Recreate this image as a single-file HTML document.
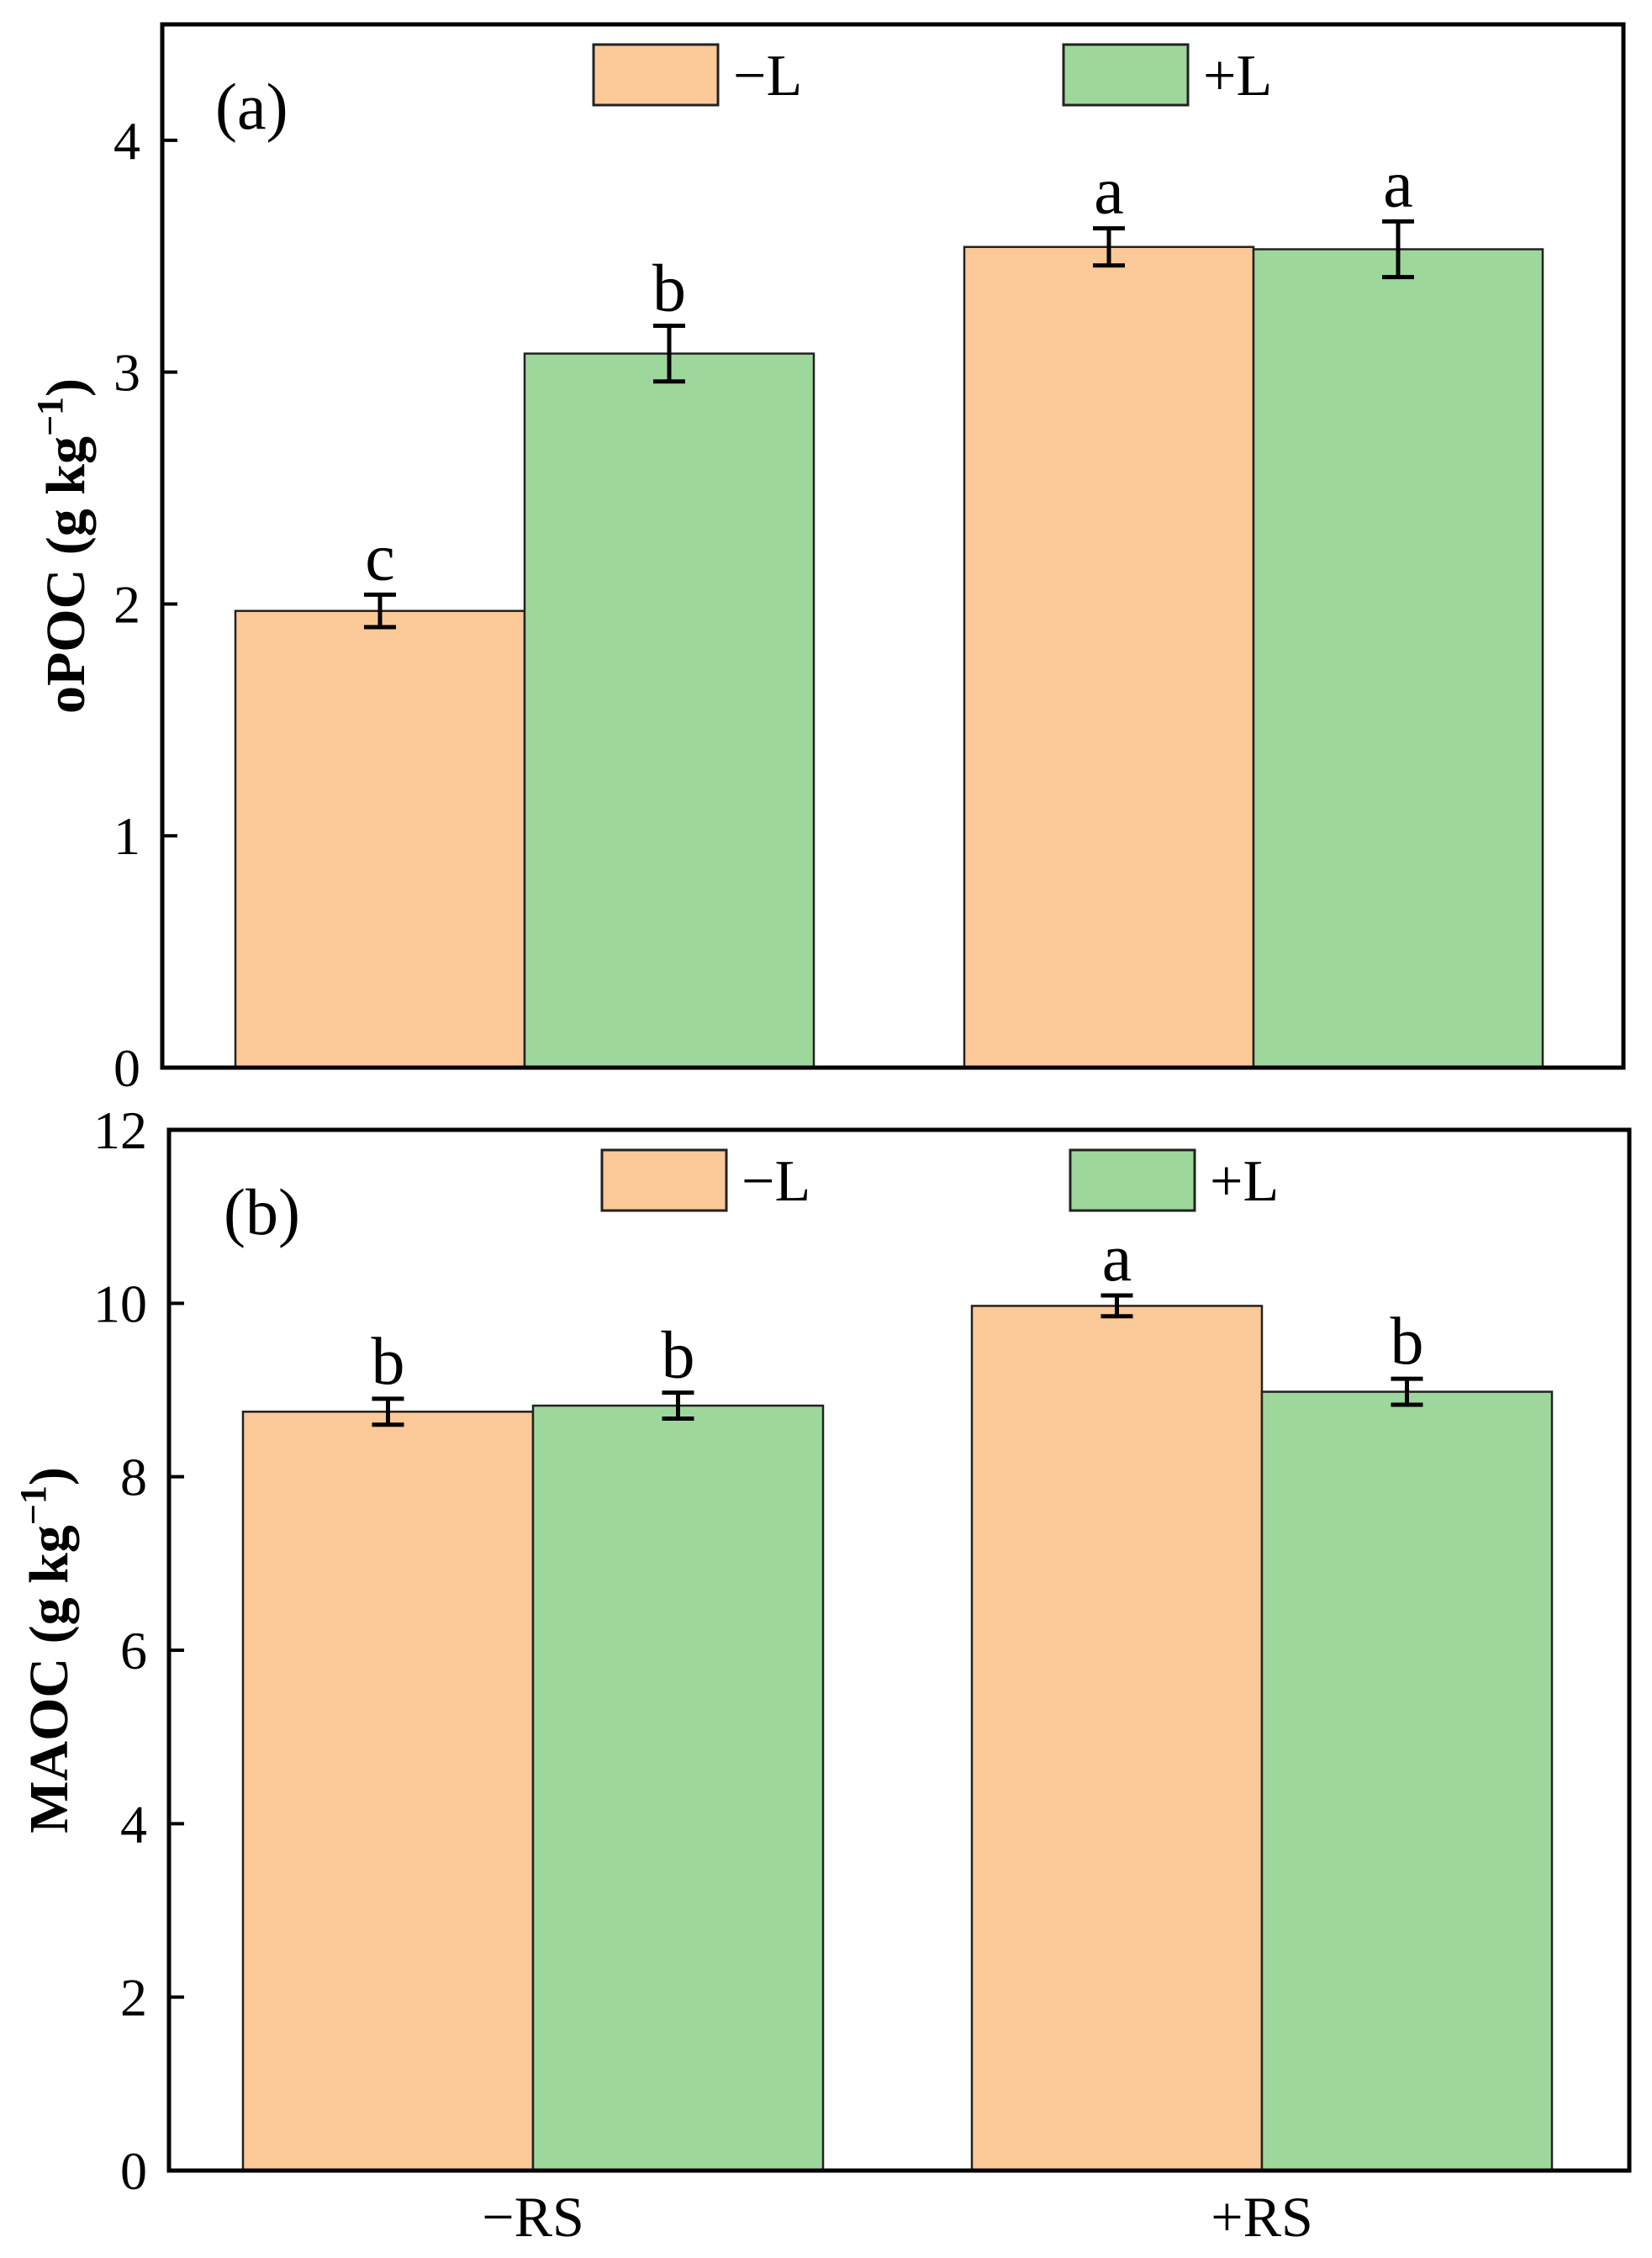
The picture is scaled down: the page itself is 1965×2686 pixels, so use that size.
<!DOCTYPE html>
<html><head><meta charset="utf-8"><style>
html,body{margin:0;padding:0;background:#fff}
svg{display:block}
text{font-family:"Liberation Serif",serif;fill:#000}
</style></head><body>
<svg id="chart" width="1965" height="2686" viewBox="0 0 1965 2686" xmlns="http://www.w3.org/2000/svg"></svg>
<script>
const categories = ["−RS", "+RS"];
const seriesNames = ["−L", "+L"];
const opocMinusL = [1.97, 3.54];
const opocPlusL = [3.08, 3.53];
const opocErrMinusL = [0.07, 0.08];
const opocErrPlusL = [0.12, 0.12];
const opocLetters = [["c","a"],["b","a"]];
const opocTicks = [0, 1, 2, 3, 4];
const maocMinusL = [8.75, 9.97];
const maocPlusL = [8.82, 8.98];
const maocErrMinusL = [0.15, 0.12];
const maocErrPlusL = [0.15, 0.15];
const maocLetters = [["b","a"],["b","b"]];
const maocTicks = [0, 2, 4, 6, 8, 10, 12];

const NS = "http://www.w3.org/2000/svg";
const svg = document.getElementById("chart");
const colors = ["#FBC997", "#9ED79C"];
function el(tag, attrs, parent){const e=document.createElementNS(NS,tag);for(const k in attrs)e.setAttribute(k,attrs[k]);(parent||svg).appendChild(e);return e;}

function panel(cfg){
  const g = el("g",{});
  
  
  const L=cfg.left,R=cfg.right,T=cfg.top,B=cfg.bottom;
  const y = v => B - v/(cfg.ymax) * (B - T);
  const groupStart=[cfg.g0, cfg.g1];
  const bw = cfg.bw;
  const series=[cfg.s0,cfg.s1], errs=[cfg.e0,cfg.e1];
  for(let s=0;s<2;s++){
    for(let c=0;c<categories.length;c++){
      const x = groupStart[c] + s*bw;
      const r = el("rect",{x:x,y:y(series[s][c]),width:bw,height:B-y(series[s][c]),fill:colors[s],stroke:"#222","stroke-width":2.5},g);
      
      
      const cx = x + bw/2;
      const eg = el("g",{stroke:"#000","stroke-width":5,fill:"none"},g);
      
      
      const hi=y(series[s][c]+errs[s][c]), lo=y(series[s][c]-errs[s][c]);
      el("line",{x1:cx,x2:cx,y1:hi,y2:lo},eg);
      el("line",{x1:cx-19,x2:cx+19,y1:hi,y2:hi},eg);
      el("line",{x1:cx-19,x2:cx+19,y1:lo,y2:lo},eg);
      const t = el("text",{x:cx,y:hi-18,"font-size":80,"text-anchor":"middle"},g);
      t.textContent = cfg.letters[s][c];
      
      
    }
  }
  const f = el("rect",{x:L,y:T,width:R-L,height:B-T,fill:"none",stroke:"#000","stroke-width":5},g);
  
  
  cfg.ticks.forEach(v=>{
    el("line",{x1:L,x2:L+18,y1:y(v),y2:y(v),stroke:"#000","stroke-width":4},g);
    const t=el("text",{x:L-26,y:y(v)+22,"font-size":64,"text-anchor":"end"},g);
    t.textContent=v;
    
    
  });
  const pl=el("text",{x:cfg.plx,y:T+124,"font-size":78},g);
  pl.textContent=cfg.panelLabel;
  
  
  for(let s=0;s<2;s++){
    const lg=el("g",{},g);
    
    
    const lx = cfg.legX[s];
    el("rect",{x:lx,y:T+24,width:148,height:72,fill:colors[s],stroke:"#222","stroke-width":3},lg);
    const lt=el("text",{x:lx+166,y:T+84,"font-size":70},lg);
    lt.textContent=seriesNames[s];
  }
  const yt=el("text",{x:0,y:0,"font-size":66,"font-weight":"bold","text-anchor":"middle",transform:`translate(${cfg.ytx},${(T+B)/2}) rotate(-90)`},g);
  
  
  yt.appendChild(document.createTextNode(cfg.ytitle+" (g kg"));
  const sup=el("tspan",{"font-size":44,dy:-26},yt); sup.textContent="−1";
  const cl=el("tspan",{dy:26},yt); cl.textContent=")";
  return {y, groupStart, bw, B};
}

panel({name:"panel-a-opoc",key:"opoc",left:193,right:1931,top:29,bottom:1270,ymax:4.5,g0:280,g1:1147,bw:344,
  s0:opocMinusL,s1:opocPlusL,e0:opocErrMinusL,e1:opocErrPlusL,letters:opocLetters,ticks:opocTicks,
  panelLabel:"(a)",plx:256,legX:[706,1265],ytitle:"oPOC",ytx:100});
const pb = panel({name:"panel-b-maoc",key:"maoc",left:201,right:1938,top:1344,bottom:2582,ymax:12,g0:289,g1:1156,bw:345,
  s0:maocMinusL,s1:maocPlusL,e0:maocErrMinusL,e1:maocErrPlusL,letters:maocLetters,ticks:maocTicks,
  panelLabel:"(b)",plx:266,legX:[716,1273],ytitle:"MAOC",ytx:80});
categories.forEach((c,i)=>{
  const t=el("text",{x:pb.groupStart[i]+pb.bw,y:2660,"font-size":68,"text-anchor":"middle"});
  t.textContent=c;
  
  
});
</script>
</body></html>
